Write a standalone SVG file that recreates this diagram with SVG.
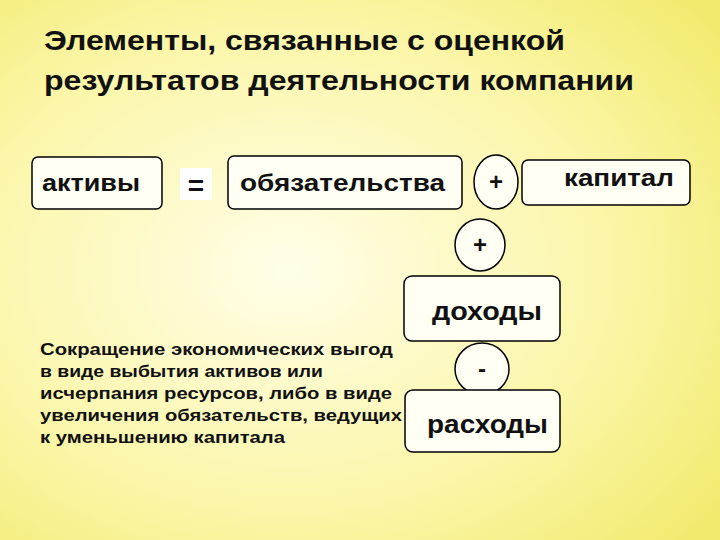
<svg xmlns="http://www.w3.org/2000/svg" width="720" height="540" viewBox="0 0 720 540">
<defs>
<radialGradient id="bg" cx="0.4" cy="0.5" r="0.75">
<stop offset="0" stop-color="#fffee8"/>
<stop offset="0.6" stop-color="#fbf6a8"/>
<stop offset="1" stop-color="#f2ea6e"/>
</radialGradient>
<style>
.b{fill:#fffff4;stroke:#000;stroke-width:1.5}
.t{font-family:"Liberation Sans",Arial,sans-serif;font-weight:bold;fill:#111}
</style>
</defs>
<rect width="720" height="540" fill="url(#bg)"/>
<text class="t" font-size="28" x="44" y="50" textLength="521" lengthAdjust="spacingAndGlyphs">Элементы, связанные с оценкой</text>
<text class="t" font-size="28" x="44" y="90" textLength="590" lengthAdjust="spacingAndGlyphs">результатов деятельности компании</text>
<g id="aktivy"><rect class="b" x="32" y="157" width="130" height="52" rx="6"/><text class="t" font-size="24" x="42" y="191" textLength="98" lengthAdjust="spacingAndGlyphs">активы</text></g>
<g id="eq"><rect x="180" y="168" width="32" height="32" fill="#fff"/><text class="t" font-size="28" x="196" y="195" text-anchor="middle">=</text></g>
<g id="obyaz"><rect class="b" x="228" y="156" width="234" height="53" rx="6"/><text class="t" font-size="24" x="240" y="191" textLength="205" lengthAdjust="spacingAndGlyphs">обязательства</text></g>
<g id="plus1"><ellipse class="b" cx="496" cy="182" rx="22" ry="27"/><text class="t" font-size="24" x="496" y="190" text-anchor="middle">+</text></g>
<g id="kapital"><rect class="b" x="522" y="160" width="168" height="45" rx="6"/><text class="t" font-size="24" x="564" y="186" textLength="110" lengthAdjust="spacingAndGlyphs">капитал</text></g>
<g id="plus2"><ellipse class="b" cx="480" cy="245" rx="25" ry="26"/><text class="t" font-size="24" x="480" y="253" text-anchor="middle">+</text></g>
<g id="dohody"><rect class="b" x="404" y="276" width="156" height="65" rx="8"/><text class="t" font-size="26" x="432" y="320" textLength="110" lengthAdjust="spacingAndGlyphs">доходы</text></g>
<g id="minus"><ellipse class="b" cx="482" cy="369" rx="27" ry="26"/><text class="t" font-size="24" x="482" y="377" text-anchor="middle">-</text></g>
<g id="rashody"><rect class="b" x="405" y="390" width="155" height="62" rx="8"/><text class="t" font-size="26" x="427" y="433" textLength="121" lengthAdjust="spacingAndGlyphs">расходы</text></g>
<g id="note" class="t" font-size="17" lengthAdjust="spacingAndGlyphs">
<text x="40" y="355" textLength="353" lengthAdjust="spacingAndGlyphs">Сокращение экономических выгод</text>
<text x="40" y="377" textLength="283" lengthAdjust="spacingAndGlyphs">в виде выбытия активов или</text>
<text x="40" y="399" textLength="352" lengthAdjust="spacingAndGlyphs">исчерпания ресурсов, либо в виде</text>
<text x="40" y="421" textLength="362" lengthAdjust="spacingAndGlyphs">увеличения обязательств, ведущих</text>
<text x="40" y="443" textLength="245" lengthAdjust="spacingAndGlyphs">к уменьшению капитала</text>
</g>
<g id="connectors"/>
</svg>
